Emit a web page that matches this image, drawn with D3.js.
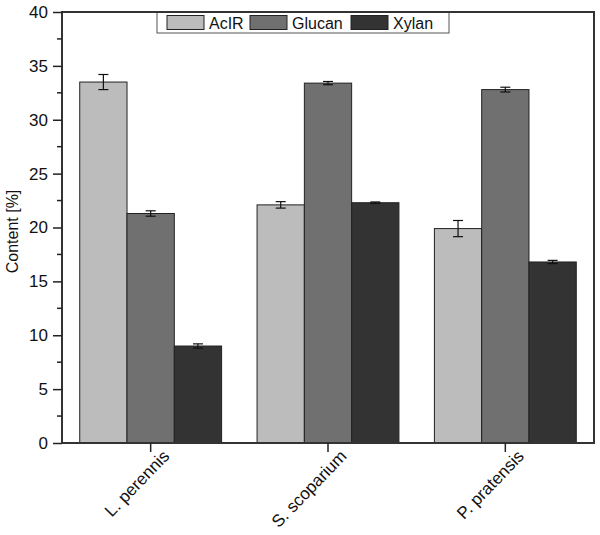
<!DOCTYPE html>
<html><head><meta charset="utf-8">
<script src="https://cdn.jsdelivr.net/npm/d3@7"></script>
<style>body{margin:0;background:#fff}svg{display:block;font-family:"Liberation Sans",Arial,sans-serif}</style>
</head><body><svg id="c" width="600" height="535"></svg>
<script>
const categories = ["L. perennis", "S. scoparium", "P. pratensis"];
const seriesNames = ["AcIR", "Glucan", "Xylan"];
const acir = [33.5, 22.1, 19.9];
const acirErr = [0.7, 0.3, 0.75];
const glucan = [21.3, 33.4, 32.8];
const glucanErr = [0.25, 0.15, 0.22];
const xylan = [9.0, 22.3, 16.8];
const xylanErr = [0.2, 0.07, 0.15];
const yTicks = [0, 5, 10, 15, 20, 25, 30, 35, 40];
const colors = ["#bcbcbc", "#707070", "#333333"];

const values = [acir, glucan, xylan];
const errs = [acirErr, glucanErr, xylanErr];
const m = {l: 62, r: 6, t: 12, b: 92};
const W = 600, H = 535;
const svg = d3.select("#c");
const x = d3.scaleBand().domain(categories).range([m.l, W - m.r]).paddingInner(0.2).paddingOuter(0.1);
const xs = d3.scaleBand().domain(seriesNames).range([0, x.bandwidth()]);
const y = d3.scaleLinear().domain([0, 40]).range([H - m.b, m.t]);

const data = [];
categories.forEach((c, i) => seriesNames.forEach((s, j) => data.push({c, s, j, v: values[j][i], e: errs[j][i]})));

svg.append("g").selectAll("rect").data(data).join("rect")
  .attr("x", d => x(d.c) + xs(d.s)).attr("width", xs.bandwidth())
  .attr("y", d => y(d.v)).attr("height", d => y(0) - y(d.v))
  .attr("fill", d => colors[d.j]).attr("stroke", "#222").attr("stroke-width", 1);

const eb = svg.append("g").attr("stroke", "#111").attr("stroke-width", 1.2);
data.forEach(d => {
  const cx = x(d.c) + xs(d.s) + xs.bandwidth() / 2;
  eb.append("line").attr("x1", cx).attr("x2", cx).attr("y1", y(d.v + d.e)).attr("y2", y(d.v - d.e));
  [d.v + d.e, d.v - d.e].forEach(v => eb.append("line").attr("x1", cx - 5).attr("x2", cx + 5).attr("y1", y(v)).attr("y2", y(v)));
});

// frame
svg.append("rect").attr("x", m.l).attr("y", m.t).attr("width", W - m.r - m.l).attr("height", y(0) - m.t)
  .attr("fill", "none").attr("stroke", "#333").attr("stroke-width", 2);

// y axis
const ya = svg.append("g").attr("transform", `translate(${m.l},0)`)
  .call(d3.axisLeft(y).tickValues(yTicks).tickSize(9).tickPadding(5).tickFormat(d3.format("d")));
ya.select(".domain").remove();
ya.selectAll("line").attr("stroke", "#222").attr("stroke-width", 1.5);
ya.selectAll("text").attr("font-size", 17).attr("fill", "#111").attr("font-family", "Liberation Sans, Arial, sans-serif");
const minor = d3.range(2.5, 40, 5);
svg.append("g").selectAll("line").data(minor).join("line")
  .attr("x1", m.l - 5).attr("x2", m.l).attr("y1", d => y(d)).attr("y2", d => y(d))
  .attr("stroke", "#222").attr("stroke-width", 1.5);

// x axis
const xa = svg.append("g").attr("transform", `translate(0,${y(0)})`)
  .call(d3.axisBottom(x).tickSize(9).tickPadding(4));
xa.select(".domain").remove();
xa.selectAll("line").attr("stroke", "#222").attr("stroke-width", 1.5);
xa.selectAll("text").attr("font-size", 17).attr("fill", "#111").attr("font-family", "Liberation Sans, Arial, sans-serif")
  .attr("text-anchor", "end").attr("dy", "0.35em")
  .attr("transform", "translate(6,1) rotate(-46)");

// y title
svg.append("text").attr("transform", `translate(18,${(m.t + y(0)) / 2 + 4}) rotate(-90)`)
  .attr("text-anchor", "middle").attr("font-size", 16).attr("fill", "#111").text("Content [%]");

// legend
const lg = svg.append("g");
lg.append("rect").attr("x", 157).attr("y", 12).attr("width", 292).attr("height", 21)
  .attr("fill", "#fff").attr("stroke", "#555").attr("stroke-width", 1);
const lx = [167, 250, 351];
seriesNames.forEach((s, j) => {
  lg.append("rect").attr("x", lx[j]).attr("y", 15.5).attr("width", 37).attr("height", 14)
    .attr("fill", colors[j]).attr("stroke", "#222").attr("stroke-width", 1);
  lg.append("text").attr("x", lx[j] + 42).attr("y", 28.5).attr("font-size", 16).attr("fill", "#111").text(s);
});
svg.append("line").attr("x1", m.l).attr("x2", W - m.r).attr("y1", m.t).attr("y2", m.t).attr("stroke", "#333").attr("stroke-width", 2);
</script></body></html>
